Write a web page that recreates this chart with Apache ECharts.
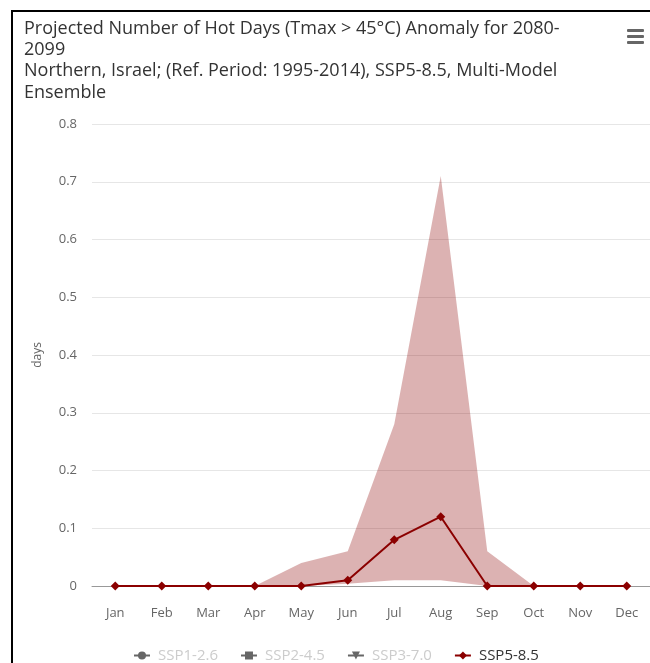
<!DOCTYPE html>
<html>
<head>
<meta charset="utf-8">
<script src="https://cdn.jsdelivr.net/npm/echarts@6/dist/echarts.min.js"></script>
<style>
  html, body { margin: 0; padding: 0; background: #fff; }
  #chart { width: 650px; height: 663px; }
</style>
</head>
<body>
<div id="chart"></div>
<script>
// Monthly hot-day anomaly (days), SSP5-8.5 multi-model ensemble
const months = ['Jan', 'Feb', 'Mar', 'Apr', 'May', 'Jun', 'Jul', 'Aug', 'Sep', 'Oct', 'Nov', 'Dec'];
const medianValues = [0, 0, 0, 0, 0, 0.01, 0.08, 0.12, 0, 0, 0, 0];
const rangeLow = [0, 0, 0, 0, 0, 0.004, 0.01, 0.01, 0, 0, 0, 0];
const rangeHigh = [0, 0, 0, 0, 0.04, 0.06, 0.28, 0.71, 0.06, 0, 0, 0];
const scenarios = ['SSP1-2.6', 'SSP2-4.5', 'SSP3-7.0', 'SSP5-8.5'];
const hiddenScenarios = ['SSP1-2.6', 'SSP2-4.5', 'SSP3-7.0'];
const yTicks = { min: 0, max: 0.8, step: 0.1 };

const rangeSpan = rangeHigh.map((h, i) => +(h - rangeLow[i]).toFixed(4));
const darkRed = '#8b0000';
const font = '"Open Sans", sans-serif';

const chart = echarts.init(document.getElementById('chart'), null, { renderer: 'canvas' });

chart.setOption({
  backgroundColor: '#ffffff',
  animation: false,
  textStyle: { fontFamily: font },
  title: {
    text: 'Projected Number of Hot Days (Tmax > 45°C) Anomaly for 2080-\n2099\nNorthern, Israel; (Ref. Period: 1995-2014), SSP5-8.5, Multi-Model\nEnsemble',
    left: 19,
    top: 13,
    textStyle: {
      fontFamily: font,
      fontSize: 18,
      fontWeight: 'normal',
      color: '#333333',
      lineHeight: 21.3
    }
  },
  legend: {
    top: 643,
    left: 128,
    itemGap: 22,
    itemWidth: 16,
    itemHeight: 10,
    data: scenarios.map(s => ({
      name: s,
      textStyle: { color: hiddenScenarios.includes(s) ? '#cccccc' : '#333333' }
    })),
    textStyle: { fontSize: 15, color: '#333333', fontFamily: font, padding: [0, 0, 0, 3] }
  },
  grid: { left: 92, right: 0, top: 124, bottom: 77, containLabel: false },
  xAxis: {
    type: 'category',
    data: months,
    boundaryGap: true,
    axisLine: { lineStyle: { color: '#999999', width: 1 } },
    axisTick: { show: false },
    axisLabel: { color: '#666666', fontSize: 13, margin: 21 },
    splitLine: { show: false }
  },
  yAxis: {
    type: 'value',
    min: yTicks.min,
    max: yTicks.max,
    interval: yTicks.step,
    name: 'days',
    nameLocation: 'middle',
    nameGap: 48,
    nameTextStyle: { color: '#666666', fontSize: 12 },
    axisLine: { show: false },
    axisTick: { show: false },
    axisLabel: {
      color: '#666666', fontSize: 13, margin: 15,
      formatter: v => (Math.round(v * 10) / 10).toString()
    },
    splitLine: { lineStyle: { color: '#e6e6e6', width: 1 } }
  },
  series: [
    { name: 'SSP1-2.6', type: 'line', symbol: 'circle', symbolSize: 8, itemStyle: { color: '#666666' }, lineStyle: { color: '#666666' }, data: [] },
    { name: 'SSP2-4.5', type: 'line', symbol: 'rect', symbolSize: 8, itemStyle: { color: '#666666' }, lineStyle: { color: '#666666' }, data: [] },
    { name: 'SSP3-7.0', type: 'line', symbol: 'triangle', symbolRotate: 180, symbolSize: 8, itemStyle: { color: '#666666' }, lineStyle: { color: '#666666' }, data: [] },
    {
      name: 'rangeBase', type: 'line', stack: 'range', data: rangeLow,
      symbol: 'none', lineStyle: { opacity: 0 }, areaStyle: { opacity: 0 },
      silent: true, z: 1
    },
    {
      name: 'rangeBand', type: 'line', stack: 'range', data: rangeSpan,
      symbol: 'none', lineStyle: { opacity: 0 },
      areaStyle: { color: darkRed, opacity: 0.3 },
      silent: true, z: 1
    },
    {
      name: 'SSP5-8.5', type: 'line', data: medianValues,
      symbol: 'diamond', symbolSize: 9,
      itemStyle: { color: darkRed },
      lineStyle: { color: darkRed, width: 2 },
      z: 3
    }
  ],
  graphic: [
    // frame lines along the top and left of the panel
    { type: 'rect', shape: { x: 11, y: 10, width: 700, height: 2 }, style: { fill: '#000000' }, silent: true },
    { type: 'rect', shape: { x: 11, y: 10, width: 2, height: 700 }, style: { fill: '#000000' }, silent: true },
    // context menu icon
    { type: 'rect', shape: { x: 627, y: 29, width: 17, height: 3, r: 1 }, style: { fill: '#666666' }, silent: true },
    { type: 'rect', shape: { x: 627, y: 35, width: 17, height: 3, r: 1 }, style: { fill: '#666666' }, silent: true },
    { type: 'rect', shape: { x: 627, y: 41, width: 17, height: 3, r: 1 }, style: { fill: '#666666' }, silent: true }
  ]
});
</script>
</body>
</html>
